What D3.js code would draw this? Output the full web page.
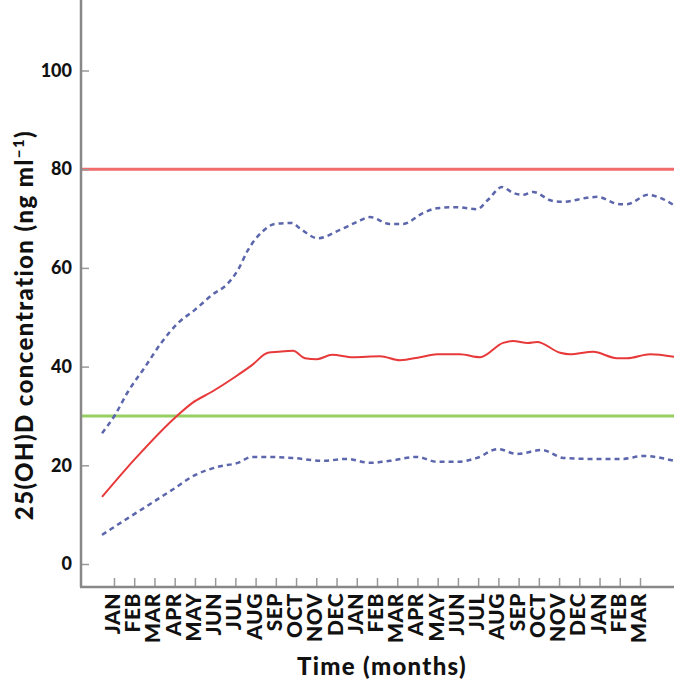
<!DOCTYPE html>
<meta charset="utf-8">
<script src="https://d3js.org/d3.v7.min.js"></script>
<style>
  body { margin: 0; background: #fff; }
  .tickText { font: 900 18px Lato, sans-serif; fill: #111; }
  .monthText { font: 900 21px Lato, sans-serif; fill: #111; letter-spacing: 0.5px; }
  .axisTitle { font: 900 24px Lato, sans-serif; fill: #111; }
</style>
<div id="chart"></div>
<script>
// month labels on the x axis (one tick per month, JAN = 0)
const months = ["JAN","FEB","MAR","APR","MAY","JUN","JUL","AUG","SEP","OCT","NOV","DEC",
  "JAN","FEB","MAR","APR","MAY","JUN","JUL","AUG","SEP","OCT","NOV","DEC",
  "JAN","FEB","MAR"];
const yTicks = [0, 20, 40, 60, 80, 100];

// reference lines
const upperLimit = 80;
const sufficiency = 30;

// time in months (JAN tick = 0) and concentration values
const upperT = [-0.59,0.05,0.69,1.53,2.37,3.16,4.00,4.84,5.64,6.13,6.62,7.32,7.96,8.80,9.19,10.08,
  11.17,12.01,12.65,13.64,14.29,15.27,15.97,16.96,17.94,18.49,19.18,19.72,20.22,20.71,21.65,
  22.20,23.38,23.88,25.01,25.36,26.40,26.99,27.68];
const upperV = [26.5,30.2,34.9,39.9,45.0,48.8,51.5,54.5,56.9,59.6,63.6,67.3,68.9,69.1,68.0,66.0,
  67.7,69.3,70.3,68.9,68.9,71.1,72.1,72.3,71.9,73.8,76.4,75.2,74.8,75.4,73.6,
  73.4,74.2,74.4,72.9,72.9,74.8,74.2,72.7];

const meanT = [-0.59,1.04,3.11,3.86,4.84,5.98,6.82,7.61,8.11,8.85,9.44,10.03,10.78,11.81,13.15,
  14.14,15.13,15.97,17.10,18.09,19.23,19.72,20.46,20.91,22.05,22.54,23.68,24.86,25.36,26.50,27.68];
const meanV = [13.6,21.3,30.0,32.6,34.9,37.9,40.3,42.8,43.0,43.2,41.7,41.5,42.4,41.9,42.1,
  41.3,41.9,42.5,42.5,41.9,44.8,45.2,44.8,45.0,42.8,42.5,43.0,41.7,41.7,42.5,42.0];

const lowerT = [-0.59,0.69,1.88,2.87,4.00,5.14,6.13,6.82,7.61,8.80,10.33,11.52,12.65,13.64,14.98,
  15.97,16.96,17.94,18.98,19.92,21.16,22.20,23.53,25.16,26.15,27.68];
const lowerV = [5.9,9.3,12.4,15.0,18.0,19.7,20.5,21.7,21.7,21.5,20.9,21.3,20.5,20.9,21.7,
  20.7,20.7,21.5,23.3,22.3,23.1,21.5,21.3,21.3,21.9,20.9];

const W = 674, H = 684;
const left = 81, bottom = 587;

const svg = d3.select("#chart").append("svg")
  .attr("width", W)
  .attr("height", H);

const x = d3.scaleLinear().domain([-1.63, 27.68]).range([left, W]);
const y = d3.scaleLinear().domain([0, 100]).range([564, 70.5]);

// reference lines
svg.append("line")
  .attr("x1", left).attr("x2", W)
  .attr("y1", y(upperLimit)).attr("y2", y(upperLimit))
  .attr("stroke", "#f26b6b").attr("stroke-width", 3);
svg.append("line")
  .attr("x1", left).attr("x2", W)
  .attr("y1", y(sufficiency)).attr("y2", y(sufficiency))
  .attr("stroke", "#97cf62").attr("stroke-width", 3);

const line = d3.line()
  .x(d => x(d[0]))
  .y(d => y(d[1]))
  .curve(d3.curveMonotoneX);

svg.append("path")
  .datum(d3.zip(upperT, upperV))
  .attr("d", line)
  .attr("fill", "none")
  .attr("stroke", "#5b66ac")
  .attr("stroke-width", 2.5)
  .attr("stroke-dasharray", "5,4");

svg.append("path")
  .datum(d3.zip(lowerT, lowerV))
  .attr("d", line)
  .attr("fill", "none")
  .attr("stroke", "#5b66ac")
  .attr("stroke-width", 2.5)
  .attr("stroke-dasharray", "5,4");

svg.append("path")
  .datum(d3.zip(meanT, meanV))
  .attr("d", line)
  .attr("fill", "none")
  .attr("stroke", "#e8393a")
  .attr("stroke-width", 2);

// Y axis
const yAxis = svg.append("g")
  .attr("transform", `translate(${left},0)`)
  .call(d3.axisRight(y).tickValues(yTicks).tickSize(8).tickFormat(d3.format("d")));
yAxis.select(".domain").remove();
yAxis.selectAll(".tick line").attr("stroke", "#999").attr("stroke-width", 1.5);
yAxis.selectAll(".tick text")
  .attr("class", "tickText")
  .attr("x", -9)
  .attr("text-anchor", "end");
svg.append("line")
  .attr("x1", left).attr("x2", left)
  .attr("y1", 0).attr("y2", bottom)
  .attr("stroke", "#888").attr("stroke-width", 2.5);

// X axis
const xAxis = svg.append("g")
  .attr("transform", `translate(0,${bottom})`)
  .call(d3.axisTop(x).tickValues(d3.range(months.length)).tickSize(9).tickFormat(""));
xAxis.select(".domain").remove();
xAxis.selectAll(".tick line").attr("stroke", "#999").attr("stroke-width", 1.5);
svg.append("line")
  .attr("x1", left - 1).attr("x2", W)
  .attr("y1", bottom).attr("y2", bottom)
  .attr("stroke", "#888").attr("stroke-width", 2.5);

svg.selectAll(".monthLabel")
  .data(months)
  .join("text")
  .attr("class", "monthText")
  .attr("text-anchor", "end")
  .attr("transform", (d, i) => `translate(${x(i) + 6},${bottom + 6}) rotate(-90)`)
  .text(d => d);

// axis titles
svg.append("text")
  .attr("class", "axisTitle")
  .attr("text-anchor", "middle")
  .attr("letter-spacing", "1.3px")
  .attr("x", 382)
  .attr("y", 675)
  .text("Time (months)");

const yTitle = svg.append("text")
  .attr("class", "axisTitle")
  .attr("text-anchor", "middle")
  .attr("letter-spacing", "1.4px")
  .attr("transform", "translate(33,325) rotate(-90)");
yTitle.append("tspan").text("25(OH)D concentration (ng ml");
yTitle.append("tspan").attr("baseline-shift", "super").attr("font-size", "15px").text("−1");
yTitle.append("tspan").text(")");
</script>
